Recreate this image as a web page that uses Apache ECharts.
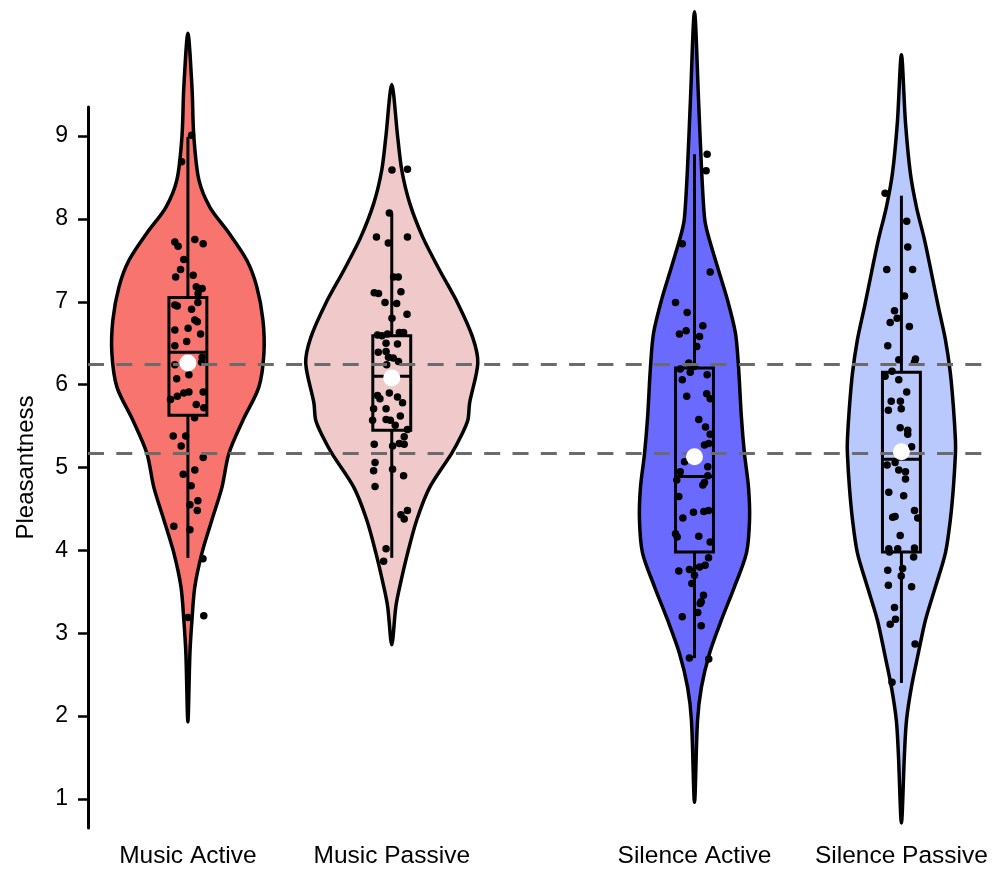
<!DOCTYPE html>
<html>
<head>
<meta charset="utf-8">
<script src="https://cdn.jsdelivr.net/npm/echarts@6.0.0/dist/echarts.min.js"></script>
<style>
html,body{margin:0;padding:0;background:#fff;}
#chart{width:995px;height:869px;}
</style>
</head>
<body>
<div id="chart"></div>
<script>
// ---------------- DATA ----------------
var groups = ['Music Active', 'Music Passive', 'Silence Active', 'Silence Passive'];
var groupX = [1, 2, 3.485, 4.5];
var yTicks = [1, 2, 3, 4, 5, 6, 7, 8, 9];
var refLines = [6.25, 5.175];

// violin density profiles: [value, half-width in x units], top to bottom
var violinMusicActive = [
  [10.24,0],[9.59,0.020],[9.0,0.029],[8.47,0.054],[8.14,0.108],[7.83,0.201],[7.50,0.289],
  [7.18,0.338],[6.78,0.368],[6.38,0.373],[5.97,0.348],[5.57,0.270],[5.17,0.201],[4.76,0.167],
  [4.37,0.118],[3.97,0.069],[3.56,0.034],[3.16,0.020],[2.76,0.010],[1.93,0]
];
var violinMusicPassive = [
  [9.62,0],[8.99,0.029],[8.59,0.049],[8.19,0.088],[7.78,0.152],[7.38,0.235],[6.98,0.324],
  [6.57,0.397],[6.26,0.422],[5.78,0.382],[5.57,0.373],[5.37,0.338],[5.17,0.294],[4.76,0.186],
  [4.37,0.123],[3.97,0.078],[3.56,0.039],[3.32,0.020],[2.86,0]
];
var violinSilenceActive = [
  [10.50,0],[9.43,0.020],[8.63,0.034],[8.02,0.049],[7.83,0.064],[7.42,0.113],[7.02,0.162],
  [6.62,0.201],[6.21,0.216],[5.61,0.230],[5.17,0.245],[4.76,0.265],[4.37,0.270],[3.97,0.255],
  [3.56,0.196],[3.16,0.132],[2.76,0.074],[2.35,0.034],[1.95,0.015],[0.96,0]
];
var violinSilencePassive = [
  [9.98,0],[9.16,0.020],[8.55,0.044],[8.14,0.074],[7.75,0.113],[7.35,0.147],[6.94,0.181],
  [6.54,0.216],[6.14,0.240],[5.73,0.255],[5.33,0.265],[5.17,0.265],[4.76,0.255],[4.37,0.240],
  [3.97,0.216],[3.56,0.167],[3.16,0.118],[2.76,0.083],[2.35,0.049],[1.95,0.025],[1.55,0.015],[0.71,0]
];

// box stats: [low whisker, Q1, median, Q3, high whisker]
var boxMusicActive    = [3.91, 5.63, 6.39, 7.05, 8.99];
var boxMusicPassive   = [3.91, 5.45, 6.10, 6.59, 8.07];
var boxSilenceActive  = [2.70, 3.98, 4.89, 6.20, 8.78];
var boxSilencePassive = [2.40, 3.98, 5.10, 6.15, 8.28];

var means = [6.26, 6.08, 5.13, 5.19];

// jittered observations: [x jitter, value]
var ptsMusicActive = [
  [0.018,9.01],[-0.031,8.69],[-0.064,7.72],[-0.048,7.67],[0.034,7.75],[0.075,7.70],[-0.020,7.51],
  [-0.036,7.39],[-0.060,7.30],[0.026,7.32],[0.041,7.18],[0.070,7.16],[0.050,7.10],[0.049,6.99],
  [-0.064,6.96],[-0.052,6.95],[0.018,6.91],[0.034,6.78],[0.046,6.76],[-0.064,6.66],[0.001,6.68],
  [0.062,6.61],[-0.006,6.52],[-0.064,6.47],[0.070,6.33],[0.067,6.27],[-0.064,6.24],[0.005,6.12],
  [-0.055,6.07],[0.005,5.91],[-0.020,5.90],[-0.052,5.86],[-0.085,5.82],[0.075,5.91],[0.041,5.76],
  [0.078,5.72],[0.033,5.60],[-0.072,5.38],[-0.011,5.38],[-0.033,5.26],[0.075,5.12],[0.034,4.97],
  [-0.023,4.92],[0.016,4.78],[0.049,4.60],[0.010,4.55],[0.046,4.48],[-0.069,4.29],[0.010,4.25],
  [0.074,3.90],[0.000,3.19],[0.078,3.21]
];
var ptsMusicPassive = [
  [0.001,8.59],[0.077,8.60],[-0.012,8.07],[-0.075,7.78],[-0.017,7.71],[0.077,7.78],[0.009,7.30],
  [0.032,7.30],[-0.086,7.11],[-0.065,7.10],[0.045,7.12],[-0.033,6.99],[0.024,6.98],[0.001,6.80],
  [0.075,6.85],[-0.070,6.60],[-0.048,6.59],[-0.021,6.61],[0.037,6.63],[0.058,6.63],[-0.028,6.50],
  [0.028,6.49],[-0.066,6.39],[-0.028,6.40],[-0.016,6.33],[0.007,6.32],[0.033,6.28],[-0.025,6.24],
  [-0.012,5.90],[-0.070,5.87],[-0.058,5.83],[0.028,5.85],[0.053,5.78],[-0.028,5.71],[-0.089,5.71],
  [-0.094,5.57],[-0.028,5.58],[-0.007,5.57],[0.042,5.62],[0.017,5.51],[0.077,5.46],[0.061,5.37],
  [-0.086,5.28],[0.004,5.26],[0.061,5.28],[0.037,5.29],[-0.082,5.06],[-0.089,4.96],[0.004,4.98],
  [0.058,4.90],[-0.082,4.77],[0.077,4.48],[0.045,4.43],[0.061,4.38],[-0.028,4.02],[-0.040,3.87]
];
var ptsSilenceActive = [
  [0.062,8.78],[0.057,8.58],[-0.060,7.70],[0.077,7.36],[-0.093,6.99],[-0.036,6.87],[0.041,6.71],
  [-0.041,6.65],[-0.074,6.61],[0.025,6.58],[0.011,6.46],[-0.028,6.26],[0.000,6.22],[-0.021,6.15],
  [-0.070,6.19],[-0.060,6.06],[0.062,6.12],[-0.038,5.86],[0.060,5.89],[0.077,5.83],[0.021,5.58],
  [0.054,5.49],[0.077,5.40],[0.049,5.27],[0.070,5.29],[-0.049,5.07],[-0.070,4.95],[0.065,5.01],
  [0.065,4.90],[-0.087,4.85],[0.041,4.79],[0.049,4.82],[-0.077,4.65],[-0.005,4.46],[0.046,4.47],
  [0.069,4.48],[-0.057,4.39],[-0.093,4.20],[-0.085,4.16],[0.021,4.17],[0.077,4.10],[0.069,3.91],
  [-0.077,3.75],[-0.025,3.77],[0.025,3.80],[0.052,3.82],[0.000,3.70],[-0.013,3.60],[0.044,3.46],
  [0.033,3.38],[0.028,3.36],[0.016,3.25],[-0.060,3.20],[0.033,3.09],[-0.025,2.70],[0.070,2.69]
];
var ptsSilencePassive = [
  [-0.080,8.31],[0.026,7.97],[0.031,7.66],[-0.072,7.39],[0.055,7.39],[0.015,7.07],[-0.034,6.89],
  [-0.021,6.80],[-0.055,6.75],[0.039,6.70],[-0.067,6.47],[-0.013,6.30],[0.069,6.31],[0.064,6.27],
  [-0.046,6.16],[-0.080,6.10],[-0.013,6.06],[0.026,5.91],[-0.050,5.80],[-0.005,5.80],[-0.064,5.69],
  [-0.001,5.71],[-0.006,5.48],[0.031,5.45],[0.031,5.40],[0.050,5.25],[-0.031,5.06],[-0.070,5.03],
  [-0.013,4.97],[0.020,4.95],[0.020,4.86],[-0.062,4.70],[0.011,4.66],[0.064,4.48],[0.080,4.39],
  [-0.031,4.41],[-0.043,4.40],[-0.006,4.18],[-0.062,4.02],[-0.059,3.98],[-0.018,4.02],[0.064,4.03],
  [0.060,3.92],[0.006,3.78],[-0.001,3.69],[-0.067,3.76],[-0.064,3.58],[0.050,3.56],[-0.034,3.31],
  [-0.029,3.17],[-0.055,3.11],[0.067,2.87],[-0.046,2.41]
];

// ---------------- BUILD ----------------
var violins = [violinMusicActive, violinMusicPassive, violinSilenceActive, violinSilencePassive];
var boxes = [boxMusicActive, boxMusicPassive, boxSilenceActive, boxSilencePassive];
var points = [ptsMusicActive, ptsMusicPassive, ptsSilenceActive, ptsSilencePassive];
var fills = ['#F8756F', '#F0CACA', '#6A6BFE', '#B9C8FD'];
var BOX_HALF = 0.093;

var violinData = groups.map(function (g, i) { return [groupX[i], i]; });
var boxData = groups.map(function (g, i) { return [groupX[i]].concat(boxes[i]); });
var pointData = [];
points.forEach(function (arr, i) {
  arr.forEach(function (p) { pointData.push([groupX[i] + p[0], p[1]]); });
});
var meanData = means.map(function (m, i) { return [groupX[i], m]; });

var chart = echarts.init(document.getElementById('chart'), null, {renderer: 'canvas'});
var font = 'Liberation Sans, Arial, Helvetica, sans-serif';

chart.setOption({
  backgroundColor: '#ffffff',
  animation: false,
  grid: {left: 88, right: 10, top: 107, bottom: 41},
  xAxis: {
    type: 'value', min: 0.51, max: 4.91,
    axisLine: {show: false}, axisTick: {show: false}, splitLine: {show: false},
    axisLabel: {
      customValues: groupX,
      formatter: function (v) {
        for (var i = 0; i < groupX.length; i++) if (Math.abs(groupX[i] - v) < 1e-6) return groups[i];
        return '';
      },
      fontSize: 24.5, color: '#000', fontFamily: font, margin: 16
    }
  },
  yAxis: {
    type: 'value', min: 0.65, max: 9.35,
    name: 'Pleasantness', nameLocation: 'middle', nameRotate: 90, nameGap: 50,
    nameTextStyle: {fontSize: 24, color: '#000', fontFamily: font},
    axisLine: {show: true, lineStyle: {color: '#000', width: 3}},
    axisTick: {show: true, customValues: yTicks, length: 10, lineStyle: {color: '#000', width: 2.5}},
    axisLabel: {customValues: yTicks, fontSize: 23, color: '#000', fontFamily: font, margin: 20},
    splitLine: {show: false}
  },
  series: [
    {
      type: 'scatter', data: [], z: 1, silent: true,
      markLine: {
        silent: true, symbol: ['none', 'none'], label: {show: false},
        lineStyle: {color: '#6b6b6b', width: 3.2, type: [16, 12.3], opacity: 1},
        emphasis: {disabled: true},
        data: refLines.map(function (v) { return {yAxis: v}; })
      }
    },
    {
      type: 'custom', z: 2, silent: true, clip: false,
      data: violinData,
      renderItem: function (params, api) {
        var i = params.dataIndex;
        var prof = violins[i];
        var cx = api.value(0);
        var right = [], left = [];
        for (var k = 0; k < prof.length; k++) right.push(api.coord([cx + prof[k][1], prof[k][0]]));
        for (var k2 = prof.length - 2; k2 >= 1; k2--) left.push(api.coord([cx - prof[k2][1], prof[k2][0]]));
        return {
          type: 'polygon',
          shape: {points: right.concat(left), smooth: 0.3},
          style: {fill: fills[i], stroke: '#000', lineWidth: 3.5, lineJoin: 'round'}
        };
      }
    },
    {
      type: 'custom', z: 3, silent: true, clip: false,
      data: boxData,
      renderItem: function (params, api) {
        var cx = api.value(0);
        var lo = api.coord([cx, api.value(1)]);
        var q1L = api.coord([cx - BOX_HALF, api.value(2)]);
        var q1R = api.coord([cx + BOX_HALF, api.value(2)]);
        var q3L = api.coord([cx - BOX_HALF, api.value(4)]);
        var q3c = api.coord([cx, api.value(4)]);
        var q1c = api.coord([cx, api.value(2)]);
        var mdL = api.coord([cx - BOX_HALF, api.value(3)]);
        var mdR = api.coord([cx + BOX_HALF, api.value(3)]);
        var hi = api.coord([cx, api.value(5)]);
        var st = {stroke: '#000', lineWidth: 3, fill: null};
        return {
          type: 'group',
          children: [
            {type: 'line', shape: {x1: hi[0], y1: hi[1], x2: q3c[0], y2: q3c[1]}, style: st},
            {type: 'line', shape: {x1: q1c[0], y1: q1c[1], x2: lo[0], y2: lo[1]}, style: st},
            {type: 'rect', shape: {x: q3L[0], y: q3L[1], width: q1R[0] - q1L[0], height: q1L[1] - q3L[1]}, style: st},
            {type: 'line', shape: {x1: mdL[0], y1: mdL[1], x2: mdR[0], y2: mdR[1]}, style: st}
          ]
        };
      }
    },
    {
      type: 'scatter', z: 4, silent: true, data: pointData,
      symbol: 'circle', symbolSize: 7.5, itemStyle: {color: '#000', opacity: 1}
    },
    {
      type: 'scatter', z: 5, silent: true, data: meanData,
      symbol: 'circle', symbolSize: 17, itemStyle: {color: '#fff', opacity: 1}
    }
  ]
});
</script>
</body>
</html>
